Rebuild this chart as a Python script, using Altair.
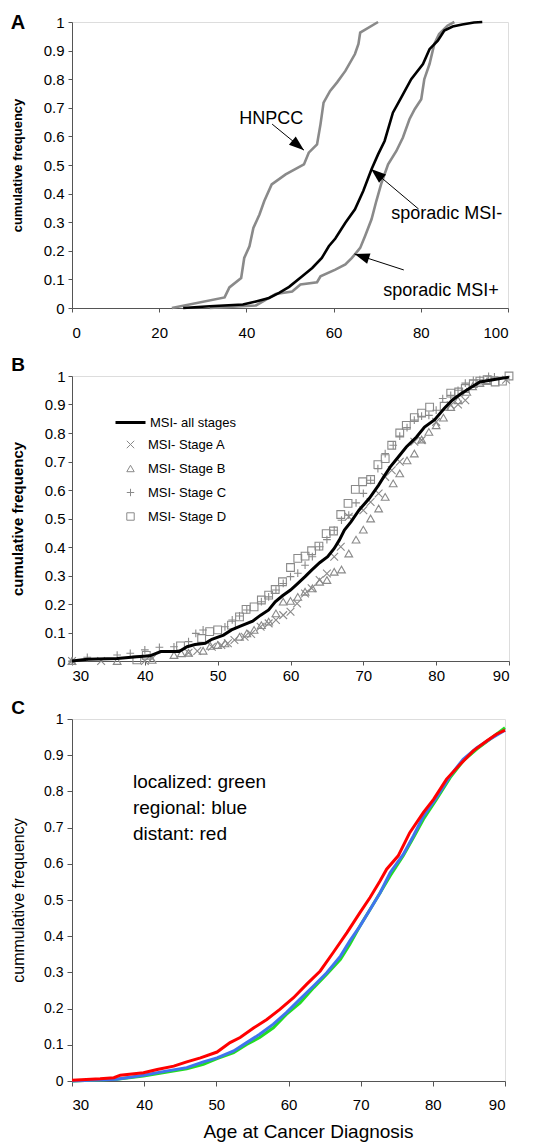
import math
import altair as alt
import pandas as pd

FONT = "Liberation Sans"

# ---------------- Panel A data ----------------
a_hnpcc_age = [22.9, 35, 36.1, 38.8, 39.5, 40.7, 41.6, 43, 44.1, 45.8, 49, 53.2, 54.3, 56.2,
               57, 57.7, 59.2, 60.8, 62.7, 64.9, 65.7, 66.1, 70.2]
a_hnpcc_freq = [0, 0.037, 0.072, 0.105, 0.175, 0.216, 0.28, 0.327, 0.374, 0.432, 0.467, 0.502,
                0.543, 0.572, 0.643, 0.718, 0.759, 0.789, 0.829, 0.888, 0.923, 0.963, 1.0]

a_msineg_age = [25.5, 31.6, 39.2, 42.2, 45.2, 47.5, 49.8, 52.8, 55.1, 57.3, 58.9, 60.4, 62.7, 64.9,
                66.8, 68.7, 70.2, 71.7, 73.6, 75.5, 77.8, 80.5, 82, 83.9, 85.4, 87.3, 89.5, 92.2, 94.1]
a_msineg_freq = [0, 0.006, 0.012, 0.023, 0.035, 0.053, 0.074, 0.111, 0.14, 0.175, 0.216, 0.243,
                 0.298, 0.345, 0.409, 0.485, 0.537, 0.584, 0.683, 0.736, 0.8, 0.853, 0.905, 0.935,
                 0.97, 0.984, 0.991, 0.998, 1.0]

a_msipos_age = [31.6, 42.2, 44.5, 46.7, 50.5, 52.4, 56.2, 57, 60.4, 62.7, 64.2, 66.1, 67.2, 68.7,
                69.8, 71, 72.5, 74.4, 75.9, 77.4, 78.6, 80.1, 80.8, 82, 83.1, 84.2, 86.1, 87.7]
a_msipos_freq = [0, 0.009, 0.029, 0.049, 0.058, 0.082, 0.09, 0.111, 0.134, 0.152, 0.175, 0.21,
                 0.251, 0.31, 0.374, 0.438, 0.502, 0.549, 0.596, 0.66, 0.695, 0.73, 0.8, 0.853,
                 0.923, 0.958, 0.987, 1.0]

a_labels = ["HNPCC", "sporadic MSI-", "sporadic MSI+"]
a_label_x = [45.7, 73.2, 71.4]
a_label_y = [0.661, 0.329, 0.059]
a_label_align = ["center", "left", "left"]

a_arrow_x1 = [45.9, 79.5, 76.1]
a_arrow_y1 = [0.643, 0.346, 0.133]
a_arrow_x2 = [53.2, 68.6, 64.8]
a_arrow_y2 = [0.552, 0.486, 0.189]

# ---------------- Panel B data ----------------
b_all_age = [30, 32.1, 36.2, 38.9, 40.7, 42.2, 44.7, 45.8, 46.9, 48.3, 49.2, 50.8, 51.9, 53.2,
             54.8, 55.9, 57, 57.9, 58.9, 60, 60.9, 62, 62.9, 64, 65.1, 66, 66.7, 67.4, 68.3,
             69.4, 70.8, 72.1, 72.8, 73.7, 74.8, 75.9, 77.3, 78.4, 79.8, 81.1, 82.2, 83.3,
             84.7, 86, 87.8, 90]
b_all_freq = [0, 0.006, 0.009, 0.015, 0.018, 0.033, 0.033, 0.05, 0.058, 0.062, 0.076, 0.091,
              0.109, 0.123, 0.14, 0.161, 0.179, 0.208, 0.229, 0.249, 0.27, 0.296, 0.319, 0.345,
              0.366, 0.395, 0.424, 0.459, 0.488, 0.529, 0.57, 0.617, 0.646, 0.681, 0.716, 0.751,
              0.786, 0.821, 0.847, 0.886, 0.915, 0.936, 0.959, 0.979, 0.987, 0.996]

b_a_age = [30, 34, 40, 41, 46, 47.2, 49.2, 50.5, 51.4, 52.3, 53.7, 54.6, 55.9, 57, 58, 59, 60,
           60.9, 62, 62.9, 64, 65, 66, 66.9, 68, 70, 71, 72.1, 73, 73.9, 75, 77, 78, 80, 82,
           83, 84, 89.6]
b_a_freq = [0, 0, 0, 0.009, 0.029, 0.035, 0.05, 0.056, 0.062, 0.074, 0.085, 0.095, 0.12, 0.132,
            0.144, 0.161, 0.173, 0.202, 0.237, 0.255, 0.284, 0.307, 0.366, 0.401, 0.506, 0.529,
            0.558, 0.588, 0.646, 0.669, 0.699, 0.769, 0.775, 0.839, 0.897, 0.9, 0.915, 0.987]

b_b_age = [30, 36.2, 41, 44, 45, 46, 48, 49, 50, 51, 53, 54, 55, 56, 57, 58, 59, 60, 61, 62, 63,
           64, 65, 66, 67, 68, 69, 70, 71, 72.1, 73, 74.1, 75, 76, 77, 78, 79, 80, 81, 82, 83,
           84.2, 85, 86, 87]
b_b_freq = [0, 0, 0.004, 0.021, 0.027, 0.029, 0.036, 0.053, 0.056, 0.062, 0.085, 0.097, 0.109,
            0.126, 0.138, 0.167, 0.208, 0.211, 0.225, 0.243, 0.255, 0.278, 0.284, 0.313, 0.321,
            0.377, 0.426, 0.461, 0.5, 0.535, 0.576, 0.623, 0.658, 0.704, 0.728, 0.777, 0.804,
            0.827, 0.854, 0.891, 0.915, 0.944, 0.964, 0.975, 0.982]

b_c_age = [30, 32.1, 36.2, 38, 40, 42, 44, 46, 47, 48, 51, 52, 53, 54, 56, 57, 58, 59, 60, 61,
           62, 63, 64, 65, 66, 67, 68, 69, 70, 71, 72, 73, 74.1, 75, 76, 77, 78, 79, 80, 80.9,
           82, 83, 84, 85.1, 86, 87.2, 88]
b_c_freq = [0, 0.013, 0.021, 0.027, 0.039, 0.048, 0.05, 0.068, 0.097, 0.109, 0.12, 0.144, 0.158,
            0.179, 0.208, 0.225, 0.249, 0.272, 0.296, 0.308, 0.336, 0.366, 0.401, 0.426, 0.459,
            0.494, 0.512, 0.555, 0.588, 0.634, 0.675, 0.728, 0.757, 0.789, 0.819, 0.845, 0.859,
            0.862, 0.88, 0.921, 0.932, 0.95, 0.975, 0.985, 0.987, 0.999, 0.997]

b_d_age = [38.9, 40.2, 44.9, 47.8, 48.9, 50, 51.9, 53, 53.9, 55, 56, 57, 57.9, 58.9, 60, 61, 62,
           62.9, 63.9, 64.9, 65.9, 66.9, 67.9, 68.9, 69.9, 71, 72, 73, 73.9, 75, 75.9, 77, 78,
           79.1, 81.1, 82, 83.1, 84, 85.1, 86, 87, 88.1, 89.1, 90]
b_d_freq = [0.004, 0.02, 0.053, 0.079, 0.103, 0.109, 0.126, 0.155, 0.181, 0.19, 0.214, 0.231,
            0.251, 0.278, 0.328, 0.36, 0.368, 0.387, 0.403, 0.447, 0.456, 0.514, 0.553, 0.602,
            0.629, 0.637, 0.689, 0.71, 0.757, 0.8, 0.827, 0.854, 0.87, 0.891, 0.894, 0.94,
            0.944, 0.956, 0.973, 0.982, 0.987, 0.979, 0.982, 1.0]

b_stage_names = ["MSI- Stage A", "MSI- Stage B", "MSI- Stage C", "MSI- Stage D"]
b_line_name = "MSI- all stages"

# ---------------- Panel C data ----------------
c_local_age = [30, 36.2, 39.9, 43.2, 45.9, 48.2, 50.1, 52.4, 54.2, 56, 57.9, 59.7, 61.6, 63.5,
               65.3, 67.2, 68.5, 69.9, 71.3, 72.7, 74.1, 75.9, 77.3, 78.7, 80.5, 82.4, 84.2,
               86.1, 87.9, 90]
c_local_freq = [0, 0.005, 0.014, 0.025, 0.034, 0.046, 0.062, 0.078, 0.101, 0.12, 0.147, 0.184,
                0.216, 0.258, 0.295, 0.336, 0.378, 0.428, 0.474, 0.52, 0.567, 0.622, 0.672,
                0.723, 0.778, 0.838, 0.884, 0.917, 0.944, 0.976]

c_regional_age = [30, 36.2, 39.9, 43.2, 45.9, 48.2, 50.1, 52.4, 54.2, 56, 57.9, 59.7, 61.6, 63.5,
                  65.3, 67.2, 68.5, 69.9, 71.3, 72.7, 74.1, 75.9, 77.3, 78.7, 80.5, 82.4, 84.2,
                  86.1, 87.9, 90]
c_regional_freq = [0, 0.005, 0.016, 0.028, 0.037, 0.053, 0.064, 0.083, 0.106, 0.129, 0.157,
                   0.189, 0.226, 0.263, 0.299, 0.345, 0.387, 0.428, 0.474, 0.52, 0.576, 0.626,
                   0.677, 0.732, 0.783, 0.843, 0.889, 0.921, 0.944, 0.969]

c_distant_age = [30, 33.9, 35.8, 36.7, 39.9, 41.8, 44.1, 45.9, 47.8, 50.1, 51.9, 53.3, 55.2, 57,
                 58.8, 60.7, 62.5, 64.4, 66.2, 68.1, 69.9, 71.3, 72.7, 73.6, 75.2, 76.8, 78.7,
                 80.1, 81.9, 83.8, 85.6, 87.5, 88.8, 90]
c_distant_freq = [0.002, 0.006, 0.009, 0.016, 0.023, 0.032, 0.041, 0.053, 0.064, 0.08, 0.106,
                  0.12, 0.147, 0.17, 0.198, 0.23, 0.267, 0.304, 0.355, 0.41, 0.465, 0.507, 0.553,
                  0.585, 0.622, 0.686, 0.742, 0.778, 0.834, 0.875, 0.912, 0.94, 0.958, 0.969]

c_note_lines = ["localized: green", "regional: blue", "distant: red"]
c_note_x = [38.45, 38.45, 38.45]
c_note_y = [0.826, 0.754, 0.683]

y_ticks = [0, 0.1, 0.2, 0.3, 0.4, 0.5, 0.6, 0.7, 0.8, 0.9, 1]

# ---------------- sizes ----------------
A_W, A_H = 436, 286
B_W, B_H = 437, 285
C_W, C_H = 433, 362

AX_COLOR = "#555555"
GRAY = "#8a8a8a"


def panel_letter(letter, dx, dy, size):
    return alt.Chart(pd.DataFrame({"t": [letter]})).mark_text(
        font=FONT, fontSize=size, fontWeight="bold", align="center", baseline="middle",
        color="black"
    ).encode(x=alt.value(dx), y=alt.value(dy), text="t:N")


# ---------------- Panel A ----------------
xA = alt.X("age:Q", scale=alt.Scale(domain=[0, 100], nice=False),
           axis=alt.Axis(values=[0, 20, 40, 60, 80, 100], title=None, grid=False,
                         labelFont=FONT, labelFontSize=15, labelPadding=13, tickSize=4,
                         labelOverlap=False,
                         domainColor=AX_COLOR, tickColor=AX_COLOR, labelColor="black"))
yA = alt.Y("freq:Q", scale=alt.Scale(domain=[0, 1], nice=False),
           axis=alt.Axis(values=y_ticks, format="~g", title="cumulative frequency", grid=False,
                         labelFont=FONT, labelFontSize=15, labelPadding=4, tickSize=4,
                         labelOverlap=False,
                         titleFont=FONT, titleFontSize=13, titleFontWeight="bold",
                         titlePadding=19, titleColor="black",
                         domainColor=AX_COLOR, tickColor=AX_COLOR, labelColor="black"))

dfA_h = pd.DataFrame({"age": a_hnpcc_age, "freq": a_hnpcc_freq})
dfA_n = pd.DataFrame({"age": a_msineg_age, "freq": a_msineg_freq})
dfA_p = pd.DataFrame({"age": a_msipos_age, "freq": a_msipos_freq})

lineA_h = alt.Chart(dfA_h).mark_line(color=GRAY, strokeWidth=2.6).encode(x=xA, y=yA)
lineA_p = alt.Chart(dfA_p).mark_line(color=GRAY, strokeWidth=2.6).encode(x=xA, y=yA)
lineA_n = alt.Chart(dfA_n).mark_line(color="black", strokeWidth=2.6).encode(x=xA, y=yA)

angles = []
for x1, y1, x2, y2 in zip(a_arrow_x1, a_arrow_y1, a_arrow_x2, a_arrow_y2):
    sx = (x2 - x1) * A_W / 100.0
    sy = (y2 - y1) * A_H / 1.0
    angles.append(math.degrees(math.atan2(sx, sy)) % 360)

dfArrows = pd.DataFrame({"age": a_arrow_x1, "freq": a_arrow_y1,
                         "age2": a_arrow_x2, "freq2": a_arrow_y2})
dfHeads = pd.DataFrame({"age": a_arrow_x2, "freq": a_arrow_y2, "angle": angles})
arrow_lines = alt.Chart(dfArrows).mark_rule(color="black", strokeWidth=1).encode(
    x=xA, y=yA, x2="age2:Q", y2="freq2:Q")
arrow_heads = alt.Chart(dfHeads).mark_point(
    shape="M0,0L-0.36,1L0.36,1Z", filled=True, color="black", opacity=1, size=900
).encode(x=xA, y=yA, angle=alt.Angle("angle:Q", scale=None))

dfAL = pd.DataFrame({"age": a_label_x, "freq": a_label_y, "label": a_labels,
                     "align": a_label_align})
labA_c = alt.Chart(dfAL[dfAL["align"] == "center"]).mark_text(
    font=FONT, fontSize=18, align="center", baseline="middle", color="black"
).encode(x=xA, y=yA, text="label:N")
labA_l = alt.Chart(dfAL[dfAL["align"] == "left"]).mark_text(
    font=FONT, fontSize=18, align="left", baseline="middle", color="black"
).encode(x=xA, y=yA, text="label:N")

chartA = alt.layer(
    lineA_h, lineA_p, lineA_n, arrow_lines, arrow_heads, labA_c, labA_l,
    panel_letter("A", -54, 1, 20)
).properties(width=A_W, height=A_H)

# ---------------- Panel B ----------------
xB = alt.X("age:Q", scale=alt.Scale(domain=[30, 90], nice=False),
           axis=alt.Axis(values=[30, 40, 50, 60, 70, 80, 90], title=None, grid=False,
                         labelFont=FONT, labelFontSize=15, labelPadding=3, tickSize=4,
                         labelOverlap=False,
                         domainColor=AX_COLOR, tickColor=AX_COLOR, labelColor="black"))
yB = alt.Y("freq:Q", scale=alt.Scale(domain=[0, 1], nice=False),
           axis=alt.Axis(values=y_ticks, format="~g", title="cumulative frequency", grid=False,
                         labelFont=FONT, labelFontSize=15, labelPadding=3, tickSize=4,
                         labelOverlap=False,
                         titleFont=FONT, titleFontSize=15, titleFontWeight="bold",
                         titlePadding=19, titleColor="black",
                         domainColor=AX_COLOR, tickColor=AX_COLOR, labelColor="black"))

stage_rows = []
for name, ages, freqs in zip(b_stage_names, [b_a_age, b_b_age, b_c_age, b_d_age],
                             [b_a_freq, b_b_freq, b_c_freq, b_d_freq]):
    for a, f in zip(ages, freqs):
        stage_rows.append({"age": a, "freq": f, "stage": name})
dfB_pts = pd.DataFrame(stage_rows)
dfB_line = pd.DataFrame({"age": b_all_age, "freq": b_all_freq,
                         "series": [b_line_name] * len(b_all_age)})

X_PATH = "M-1,-1L1,1M-1,1L1,-1"
PLUS_PATH = "M-1,0L1,0M0,-1L0,1"

pointsB = alt.Chart(dfB_pts).mark_point(
    filled=False, color=GRAY, strokeWidth=1.1, size=60, opacity=1
).encode(
    x=xB, y=yB,
    shape=alt.Shape("stage:N",
                    scale=alt.Scale(domain=b_stage_names,
                                    range=[X_PATH, "triangle-up", PLUS_PATH, "square"]),
                    legend=alt.Legend(orient="none", legendX=52, legendY=62, title=None,
                                      labelFont=FONT, labelFontSize=13, labelColor="black",
                                      labelOffset=11, rowPadding=10, symbolSize=55,
                                      symbolStrokeColor=GRAY, symbolFillColor="transparent",
                                      symbolStrokeWidth=1, padding=0))
)

lineB = alt.Chart(dfB_line).mark_line(strokeWidth=3).encode(
    x=xB, y=yB,
    color=alt.Color("series:N", scale=alt.Scale(domain=[b_line_name], range=["black"]),
                    legend=alt.Legend(orient="none", legendX=42, legendY=30, title=None,
                                      labelFont=FONT, labelFontSize=13, labelColor="black",
                                      labelOffset=3, symbolType="stroke", symbolSize=900,
                                      symbolStrokeWidth=3, padding=0))
)

chartB = alt.layer(pointsB, lineB, panel_letter("B", -54, -11, 19)).properties(
    width=B_W, height=B_H)

# ---------------- Panel C ----------------
xC = alt.X("age:Q", scale=alt.Scale(domain=[30, 90], nice=False),
           axis=alt.Axis(values=[30, 40, 50, 60, 70, 80, 90], title="Age at Cancer Diagnosis",
                         grid=False, labelFont=FONT, labelFontSize=15, labelPadding=11,
                         tickSize=5, titleFont=FONT, titleFontSize=19, labelOverlap=False,
                         titleFontWeight="normal", titlePadding=10, titleColor="black",
                         titleX=236,
                         domainColor=AX_COLOR, tickColor=AX_COLOR, labelColor="black"))
yC = alt.Y("freq:Q", scale=alt.Scale(domain=[0, 1], nice=False),
           axis=alt.Axis(values=y_ticks, format="~g", title="cummulative frequency",
                         grid=False, labelFont=FONT, labelFontSize=14, labelPadding=4,
                         tickSize=5, titleFont=FONT, titleFontSize=16, labelOverlap=False,
                         titleFontWeight="normal", titlePadding=17, titleColor="black",
                         domainColor=AX_COLOR, tickColor=AX_COLOR, labelColor="black"))

dfC_l = pd.DataFrame({"age": c_local_age, "freq": c_local_freq})
dfC_r = pd.DataFrame({"age": c_regional_age, "freq": c_regional_freq})
dfC_d = pd.DataFrame({"age": c_distant_age, "freq": c_distant_freq})

lineC_l = alt.Chart(dfC_l).mark_line(color="#22dd22", strokeWidth=3).encode(x=xC, y=yC)
lineC_r = alt.Chart(dfC_r).mark_line(color="#3f74ee", strokeWidth=3).encode(x=xC, y=yC)
lineC_d = alt.Chart(dfC_d).mark_line(color="#ff0000", strokeWidth=3).encode(x=xC, y=yC)

dfC_note = pd.DataFrame({"age": c_note_x, "freq": c_note_y, "label": c_note_lines})
noteC = alt.Chart(dfC_note).mark_text(
    font=FONT, fontSize=19, align="left", baseline="middle", color="black"
).encode(x=xC, y=yC, text="label:N")

chartC = alt.layer(lineC_l, lineC_r, lineC_d, noteC, panel_letter("C", -54, -11, 19)).properties(
    width=C_W, height=C_H)

chart = alt.ConcatChart(
    concat=[chartA, chartB, chartC], columns=1, align="none", spacing=14,
    padding={"left": 1, "top": 4, "right": 4, "bottom": 0}
).resolve_scale(color="independent", shape="independent"
).configure_view(stroke=None).configure(background="white")

chart.save("out.html", embed_options={"renderer": "svg", "actions": False})
